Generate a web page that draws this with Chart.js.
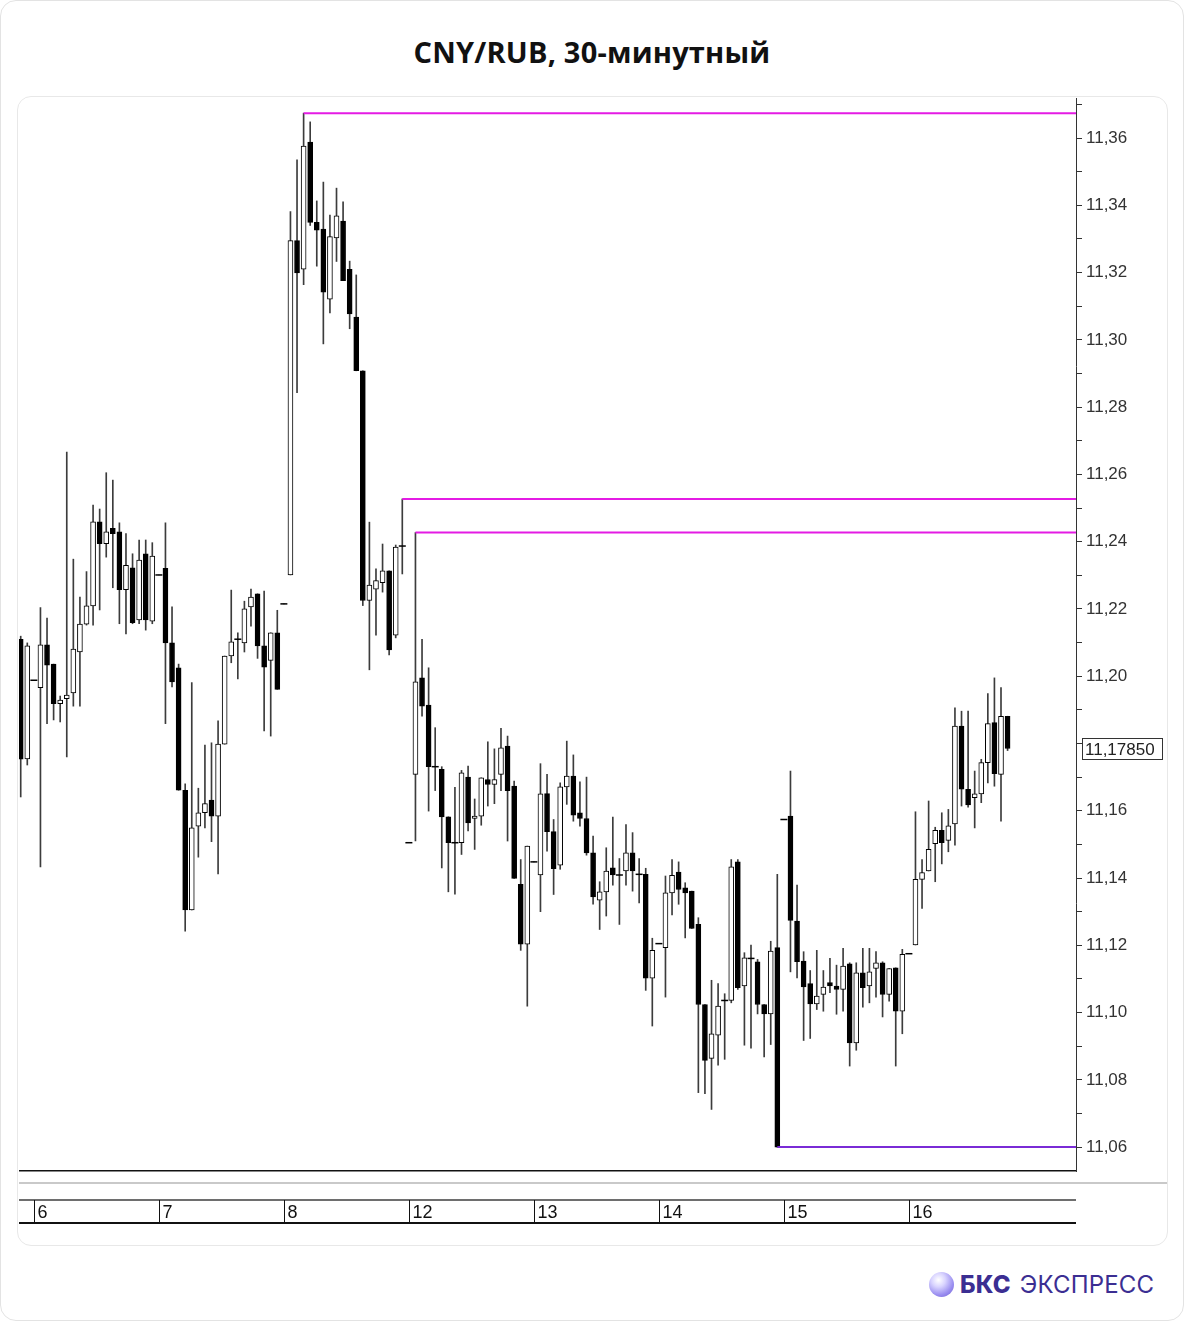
<!DOCTYPE html>
<html lang="ru">
<head>
<meta charset="utf-8">
<title>CNY/RUB, 30-минутный</title>
<script src="https://cdn.jsdelivr.net/npm/chart.js@4.4.0/dist/chart.umd.min.js"></script>
<style>
  html, body { margin: 0; padding: 0; background: #fff; }
  .frame { position: relative; width: 1184px; height: 1321px; border: 1px solid #e3e3e3; border-radius: 16px; box-sizing: border-box; overflow: hidden; }
  h1 { position: absolute; left: 0; right: 0; top: 31px; margin: 0; text-align: center; font: 700 29px/40px 'Open Sans', sans-serif; color: #111; letter-spacing: 0.2px; }
  .card { position: absolute; left: 16px; top: 95px; width: 1151px; height: 1150px; border: 1px solid #e8e8e8; border-radius: 14px; box-sizing: border-box; }
  #chart { position: absolute; left: 18px; top: 97px; }
  .logo { position: absolute; left: 928px; top: 1266px; height: 34px; display: flex; align-items: center; font: 24px 'Inter', 'Noto Sans', sans-serif; color: #3b2e92; letter-spacing: 0.2px; }
  .logo .ball { width: 25px; height: 25px; border-radius: 50%; margin-right: 6px;
    background: radial-gradient(circle at 38% 32%, #ffffff 0%, #d9d4ff 30%, #9a8ef0 65%, #6a5ad0 100%); }
  .logo b { font-weight: 800; margin-right: 9px; }
</style>
</head>
<body>
<div class="frame">
  <h1>CNY/RUB, 30-минутный</h1>
  <div class="card"></div>
  <canvas id="chart" width="1148" height="1146"></canvas>
  <div class="logo"><span class="ball"></span><b>БКС</b><span>ЭКСПРЕСС</span></div>
</div>
<script>
// 30-минутные свечи, индекс = номер свечи слева направо
const opens = [
  11.2110, 11.1754, 11.1988, 11.1966, 11.2093, 11.2036, 11.1918, 11.1933, 11.1950, 11.2072,
  11.2155, 11.2209, 11.2459, 11.2394, 11.2440, 11.2429, 11.2257, 11.2322, 11.2167, 11.2364,
  11.2164, 11.2301, 11.2321, 11.2099, 11.2025, 11.1661, 11.1305, 11.1554, 11.1594, 11.1632,
  11.1584, 11.1798, 11.2060, 11.2110, 11.2099, 11.2206, 11.2245, 11.2090, 11.2047, 11.2129,
  11.2215, 11.2301, 11.3295, 11.3210, 11.3588, 11.3349, 11.3329, 11.3121, 11.3303, 11.3353,
  11.3210, 11.3068, 11.2908, 11.2225, 11.2259, 11.2278, 11.2313, 11.2122, 11.2387, 11.1505,
  11.1708, 11.1995, 11.1914, 11.1731, 11.1723, 11.1582, 11.1505, 11.1505, 11.1700, 11.1577,
  11.1584, 11.1693, 11.1678, 11.1708, 11.1792, 11.1673, 11.1381, 11.1203, 11.1448, 11.1409,
  11.1651, 11.1538, 11.1438, 11.1671, 11.1703, 11.1594, 11.1577, 11.1475, 11.1334, 11.1359,
  11.1430, 11.1409, 11.1421, 11.1475, 11.1411, 11.1411, 11.1102, 11.1205, 11.1193, 11.1356,
  11.1418, 11.1371, 11.1361, 11.1262, 11.1024, 11.0864, 11.0933, 11.1036, 11.1036, 11.1448,
  11.1079, 11.1161, 11.1151, 11.1024, 11.0996, 11.1193, 11.1574, 11.1584, 11.1272, 11.1153,
  11.1086, 11.1026, 11.1054, 11.1089, 11.1079, 11.1069, 11.1145, 11.0910, 11.1118, 11.1079,
  11.1131, 11.1148, 11.1054, 11.1133, 11.1004, 11.1175, 11.1201, 11.1396, 11.1421, 11.1502,
  11.1542, 11.1512, 11.1561, 11.1852, 11.1664, 11.1639, 11.1650, 11.1743, 11.1862, 11.1708,
  11.1881
];
const highs = [
  11.2119, 11.2099, 11.1988, 11.2204, 11.2173, 11.2036, 11.1941, 11.2666, 11.2348, 11.2235,
  11.2311, 11.2509, 11.2497, 11.2605, 11.2583, 11.2456, 11.2424, 11.2364, 11.2405, 11.2405,
  11.2397, 11.2301, 11.2456, 11.2206, 11.2036, 11.1680, 11.1981, 11.1667, 11.1795, 11.1802,
  11.1867, 11.2060, 11.2256, 11.2129, 11.2223, 11.2259, 11.2245, 11.2253, 11.2129, 11.2196,
  11.2215, 11.3381, 11.3535, 11.3674, 11.3648, 11.3413, 11.3469, 11.3371, 11.3451, 11.3410,
  11.3234, 11.3193, 11.2908, 11.2458, 11.2319, 11.2393, 11.2313, 11.2390, 11.2527, 11.1505,
  11.2427, 11.2110, 11.2025, 11.1847, 11.1731, 11.1582, 11.1670, 11.1720, 11.1733, 11.1635,
  11.1698, 11.1805, 11.1784, 11.1845, 11.1822, 11.1688, 11.1455, 11.1495, 11.1448, 11.1740,
  11.1708, 11.1574, 11.1683, 11.1807, 11.1766, 11.1686, 11.1700, 11.1525, 11.1389, 11.1490,
  11.1581, 11.1458, 11.1559, 11.1535, 11.1458, 11.1429, 11.1221, 11.1205, 11.1406, 11.1455,
  11.1448, 11.1386, 11.1361, 11.1282, 11.1024, 11.1096, 11.1086, 11.1056, 11.1455, 11.1455,
  11.1178, 11.1201, 11.1158, 11.1024, 11.1212, 11.1411, 11.1574, 11.1718, 11.1379, 11.1181,
  11.1125, 11.1185, 11.1125, 11.1161, 11.1141, 11.1191, 11.1148, 11.1148, 11.1191, 11.1191,
  11.1181, 11.1151, 11.1131, 11.1133, 11.1188, 11.1175, 11.1597, 11.1455, 11.1629, 11.1551,
  11.1594, 11.1604, 11.1906, 11.1896, 11.1896, 11.1718, 11.1753, 11.1948, 11.1995, 11.1966,
  11.1881
];
const lows = [
  11.1641, 11.1736, 11.1988, 11.1433, 11.1859, 11.1870, 11.1864, 11.1760, 11.1911, 11.1911,
  11.2152, 11.2152, 11.2197, 11.2354, 11.2263, 11.2156, 11.2126, 11.2156, 11.2156, 11.2137,
  11.2156, 11.2301, 11.1859, 11.1968, 11.1661, 11.1242, 11.1305, 11.1462, 11.1549, 11.1508,
  11.1412, 11.1798, 11.2040, 11.1992, 11.2072, 11.2149, 11.2053, 11.1837, 11.1822, 11.1961,
  11.2215, 11.2301, 11.2843, 11.3164, 11.3340, 11.3219, 11.2988, 11.3080, 11.3233, 11.3176,
  11.3033, 11.2908, 11.2210, 11.2019, 11.2122, 11.2250, 11.2063, 11.2114, 11.2304, 11.1505,
  11.1510, 11.1881, 11.1599, 11.1660, 11.1430, 11.1359, 11.1352, 11.1470, 11.1540, 11.1485,
  11.1557, 11.1614, 11.1621, 11.1660, 11.1510, 11.1399, 11.1185, 11.1019, 11.1448, 11.1300,
  11.1480, 11.1351, 11.1426, 11.1619, 11.1569, 11.1554, 11.1468, 11.1322, 11.1247, 11.1287,
  11.1379, 11.1262, 11.1379, 11.1361, 11.1326, 11.1066, 11.0960, 11.1205, 11.1046, 11.1290,
  11.1322, 11.1222, 11.1250, 11.0762, 11.0759, 11.0712, 11.0844, 11.0861, 11.1029, 11.1069,
  11.0903, 11.0894, 11.0996, 11.0868, 11.0905, 11.0600, 11.1574, 11.1121, 11.1103, 11.0917,
  11.0923, 11.1009, 11.1004, 11.1059, 11.0995, 11.1004, 11.0841, 11.0888, 11.1016, 11.1029,
  11.1046, 11.0987, 11.1034, 11.0841, 11.0937, 11.1175, 11.1201, 11.1310, 11.1421, 11.1389,
  11.1442, 11.1478, 11.1498, 11.1614, 11.1611, 11.1549, 11.1624, 11.1683, 11.1673, 11.1569,
  11.1779
];
const closes = [
  11.1753, 11.2090, 11.1988, 11.2093, 11.2033, 11.1918, 11.1929, 11.1944, 11.2081, 11.2155,
  11.2209, 11.2459, 11.2394, 11.2429, 11.2424, 11.2257, 11.2330, 11.2159, 11.2345, 11.2167,
  11.2357, 11.2301, 11.2099, 11.1983, 11.1661, 11.1305, 11.1549, 11.1594, 11.1621, 11.1584,
  11.1798, 11.2060, 11.2102, 11.2110, 11.2200, 11.2235, 11.2090, 11.2027, 11.2129, 11.1961,
  11.2215, 11.3295, 11.3199, 11.3576, 11.3349, 11.3326, 11.3142, 11.3307, 11.3369, 11.3176,
  11.3077, 11.2908, 11.2225, 11.2271, 11.2284, 11.2313, 11.2078, 11.2384, 11.2387, 11.1505,
  11.1983, 11.1911, 11.1731, 11.1731, 11.1582, 11.1505, 11.1505, 11.1713, 11.1564, 11.1584,
  11.1698, 11.1678, 11.1693, 11.1787, 11.1660, 11.1399, 11.1203, 11.1495, 11.1448, 11.1650,
  11.1538, 11.1428, 11.1671, 11.1703, 11.1587, 11.1577, 11.1475, 11.1344, 11.1359, 11.1421,
  11.1409, 11.1409, 11.1475, 11.1421, 11.1411, 11.1102, 11.1185, 11.1205, 11.1356, 11.1408,
  11.1366, 11.1356, 11.1250, 11.1024, 11.0858, 11.0937, 11.1019, 11.1036, 11.1433, 11.1074,
  11.1163, 11.1161, 11.1024, 11.0996, 11.1183, 11.0600, 11.1574, 11.1274, 11.1151, 11.1076,
  11.1026, 11.1049, 11.1076, 11.1079, 11.1069, 11.1138, 11.0910, 11.1118, 11.1074, 11.1121,
  11.1148, 11.1054, 11.1131, 11.1004, 11.1173, 11.1175, 11.1396, 11.1416, 11.1485, 11.1542,
  11.1505, 11.1555, 11.1852, 11.1664, 11.1617, 11.1650, 11.1743, 11.1859, 11.1710, 11.1881,
  11.1785
];

// ось времени: дни и номер первой свечи дня
const dayLabels = ['6', '7', '8', '12', '13', '14', '15', '16'];
const dayStarts = [2, 21, 40, 59, 78, 97, 116, 135];

// горизонтальные уровни: цена и свеча, от которой проведена линия
const levelValues = [11.3674, 11.2527, 11.2427, 11.0600];
const levelStarts = [43, 58, 60, 115];
const levelColors = ['#e41be4', '#e41be4', '#e41be4', '#7a2bd6'];

// деления правой оси
const yTicks = [
  11.06, 11.07, 11.08, 11.09, 11.10, 11.11, 11.12, 11.13, 11.14, 11.15, 11.16,
  11.17, 11.18, 11.19, 11.20, 11.21, 11.22, 11.23, 11.24, 11.25, 11.26, 11.27,
  11.28, 11.29, 11.30, 11.31, 11.32, 11.33, 11.34, 11.35, 11.36, 11.37
];

const X_MIN = -0.26, X_MAX = 160.4;
const Y_MIN = 11.0529, Y_MAX = 11.3719;

const lastClose = closes[closes.length - 1];
const fmt = v => v.toFixed(2).replace('.', ',');

const bodies = opens.map((o, i) => ({ x: i, y: [o, closes[i]] }));
const wicks = lows.map((l, i) => ({ x: i, y: [l, highs[i]] }));
const dojis = opens.map((o, i) => (o === closes[i] ? { x: i, y: o } : null)).filter(p => p);
const bodyColors = opens.map((o, i) => (closes[i] < o ? '#000' : '#fff'));

const levelSets = levelValues.map((v, k) => ({
  type: 'line',
  data: [{ x: levelStarts[k], y: v }, { x: X_MAX, y: v }],
  borderColor: levelColors[k],
  borderWidth: 2,
  pointRadius: 0,
  order: 0
}));

const dayBand = {
  id: 'dayBand',
  afterDraw(chart) {
    const { ctx, chartArea, scales } = chart;
    const b = chartArea.bottom;
    ctx.save();
    // разделитель под графиком
    ctx.strokeStyle = '#c9c9c9';
    ctx.lineWidth = 2;
    ctx.beginPath();
    ctx.moveTo(0, b + 12);
    ctx.lineTo(chart.width, b + 12);
    ctx.stroke();
    // полоса с датами
    ctx.strokeStyle = '#6e6e6e';
    ctx.beginPath();
    ctx.moveTo(0, b + 29);
    ctx.lineTo(chartArea.right, b + 29);
    ctx.stroke();
    ctx.strokeStyle = '#111';
    ctx.beginPath();
    ctx.moveTo(0, b + 52);
    ctx.lineTo(chartArea.right, b + 52);
    ctx.stroke();
    ctx.lineWidth = 1;
    ctx.fillStyle = '#111';
    ctx.font = "18px 'Liberation Sans Narrow', 'Liberation Sans', sans-serif";
    ctx.textBaseline = 'middle';
    dayStarts.forEach((idx, k) => {
      const x = Math.round(scales.x.getPixelForValue(idx)) + 0.5;
      ctx.beginPath();
      ctx.moveTo(x, b + 29);
      ctx.lineTo(x, b + 52);
      ctx.stroke();
      ctx.fillText(dayLabels[k], x + 3, b + 42);
    });
    // метка последней цены
    const y = Math.round(scales.y.getPixelForValue(lastClose));
    const bx = chartArea.right + 6;
    ctx.fillStyle = '#fff';
    ctx.fillRect(bx, y - 11, 81, 22);
    ctx.strokeStyle = '#333';
    ctx.strokeRect(bx + 0.5, y - 10.5, 80, 21);
    ctx.fillStyle = '#222';
    ctx.font = "17px 'Liberation Sans', Arial, sans-serif";
    ctx.fillText(lastClose.toFixed(5).replace('.', ','), bx + 3, y + 1);
    ctx.restore();
  }
};

new Chart(document.getElementById('chart'), {
  data: {
    datasets: [
      {
        type: 'line',
        data: dojis,
        showLine: false,
        pointStyle: 'line',
        pointRadius: 3.5,
        pointBorderColor: '#000',
        pointBorderWidth: 1.5,
        order: 1
      },
      {
        type: 'bar',
        data: bodies,
        backgroundColor: bodyColors,
        borderColor: '#000',
        borderWidth: 1,
        borderSkipped: false,
        barThickness: 5,
        grouped: false,
        order: 2
      },
      {
        type: 'bar',
        data: wicks,
        backgroundColor: '#3c3c3c',
        borderWidth: 0,
        barThickness: 1,
        grouped: false,
        order: 3
      },
      ...levelSets
    ]
  },
  options: {
    responsive: false,
    devicePixelRatio: 1,
    animation: false,
    events: [],
    layout: { padding: 0, autoPadding: false },
    plugins: { legend: { display: false }, tooltip: { enabled: false } },
    scales: {
      x: {
        type: 'linear',
        min: X_MIN,
        max: X_MAX,
        offset: false,
        ticks: { display: false },
        grid: { display: false, offset: false },
        border: { display: true, color: '#111', width: 1.5 },
        afterFit: s => { s.height = 73; s.paddingLeft = 0; s.paddingRight = 0; }
      },
      y: {
        position: 'right',
        min: Y_MIN,
        max: Y_MAX,
        afterBuildTicks: s => { s.ticks = yTicks.map(v => ({ value: v })); },
        afterFit: s => { s.width = 91; s.paddingTop = 0; s.paddingBottom = 0; },
        grid: { drawOnChartArea: false, tickLength: 6, tickColor: '#333' },
        border: { display: true, color: '#333', width: 1 },
        ticks: {
          padding: 4,
          color: '#333',
          font: { family: "'Liberation Sans', Arial, sans-serif", size: 17 },
          // метка под плашкой последней цены не выводится
          callback: v => (Math.round(v * 100) % 2 === 0 && Math.abs(v - lastClose) > 0.005 ? fmt(v) : '')
        }
      }
    }
  },
  plugins: [dayBand]
});
</script>
</body>
</html>
